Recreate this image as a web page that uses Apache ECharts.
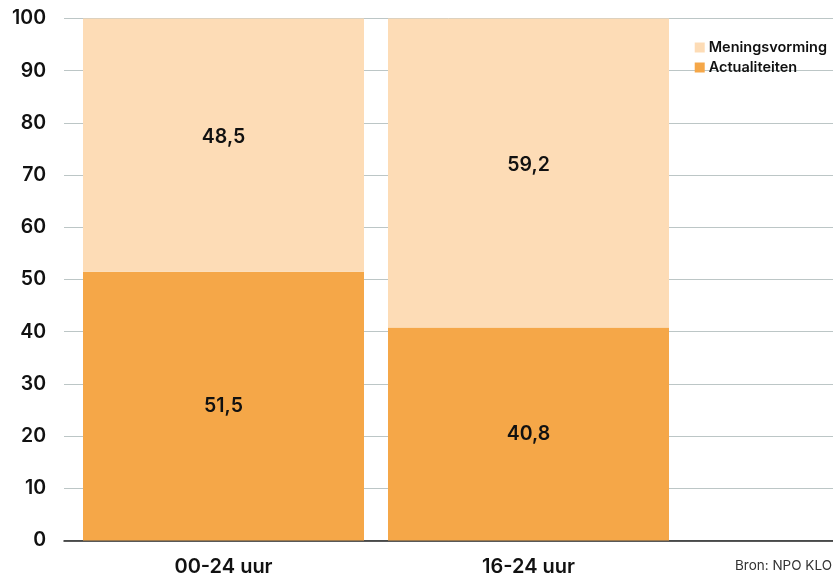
<!DOCTYPE html>
<html><head><meta charset="utf-8">
<script src="https://cdn.jsdelivr.net/npm/echarts@6/dist/echarts.min.js"></script>
<style>html,body{margin:0;padding:0;background:#fff}#c{width:833px;height:578px}</style>
</head><body><div id="c"></div>
<script>
const categories = ['00-24 uur', '16-24 uur'];
const actualiteiten = [51.5, 40.8];
const meningsvorming = [48.5, 59.2];
const yTicks = { min: 0, max: 100, interval: 10 };
const source = 'Bron: NPO KLO';

const FONT = 'Inter, "Noto Sans", sans-serif';
const fmt = p => String(p.value).replace('.', ',');
const chart = echarts.init(document.getElementById('c'));
chart.setOption({
  animation: false,
  textStyle: { fontFamily: FONT },
  grid: [
    { left: 64, right: 0, top: 18.5, bottom: 37.5 },
    { left: 71, right: 152, top: 18.5, bottom: 37.5 }
  ],
  legend: {
    orient: 'vertical', right: 1, top: 35, itemWidth: 10, itemHeight: 10, itemGap: 5,
    icon: 'rect', data: ['Meningsvorming', 'Actualiteiten'],
    textStyle: { fontFamily: FONT, fontSize: 14.5, fontWeight: 600, color: '#111', padding: [0, 0, 0, -1] }
  },
  xAxis: [
    { gridIndex: 0, type: 'value', min: 0, max: 1, show: true,
      axisLine: { show: true, lineStyle: { color: '#222', width: 1.5 } },
      axisTick: { show: false }, axisLabel: { show: false }, splitLine: { show: false } },
    { gridIndex: 1, type: 'category', data: categories,
      axisLine: { show: false }, axisTick: { show: false },
      axisLabel: { margin: 16, fontSize: 20, fontWeight: 600, color: '#111', fontFamily: FONT } }
  ],
  yAxis: [
    { gridIndex: 0, type: 'value', min: yTicks.min, max: yTicks.max, interval: yTicks.interval,
      axisLine: { show: false }, axisTick: { show: false },
      axisLabel: { margin: 18, fontSize: 19.5, fontWeight: 600, color: '#111', fontFamily: FONT },
      splitLine: { lineStyle: { color: '#bcc6c6', width: 1 } } },
    { gridIndex: 1, type: 'value', min: yTicks.min, max: yTicks.max, interval: yTicks.interval, show: false }
  ],
  graphic: [{ type: 'text', right: 1, top: 559,
    style: { text: source, fontFamily: FONT, fontSize: 13.5, fill: '#333' } }],
  series: [
    { name: 'Actualiteiten', type: 'bar', stack: 's', xAxisIndex: 1, yAxisIndex: 1,
      data: actualiteiten, barWidth: 281, itemStyle: { color: '#F5A748' },
      label: { show: true, position: 'inside', formatter: fmt, fontSize: 19.5, fontWeight: 600, color: '#111', fontFamily: FONT } },
    { name: 'Meningsvorming', type: 'bar', stack: 's', xAxisIndex: 1, yAxisIndex: 1,
      data: meningsvorming, barWidth: 281, itemStyle: { color: '#FDDCB6' },
      label: { show: true, position: 'inside', offset: [0, -8], formatter: fmt, fontSize: 19.5, fontWeight: 600, color: '#111', fontFamily: FONT } }
  ]
});
</script></body></html>
